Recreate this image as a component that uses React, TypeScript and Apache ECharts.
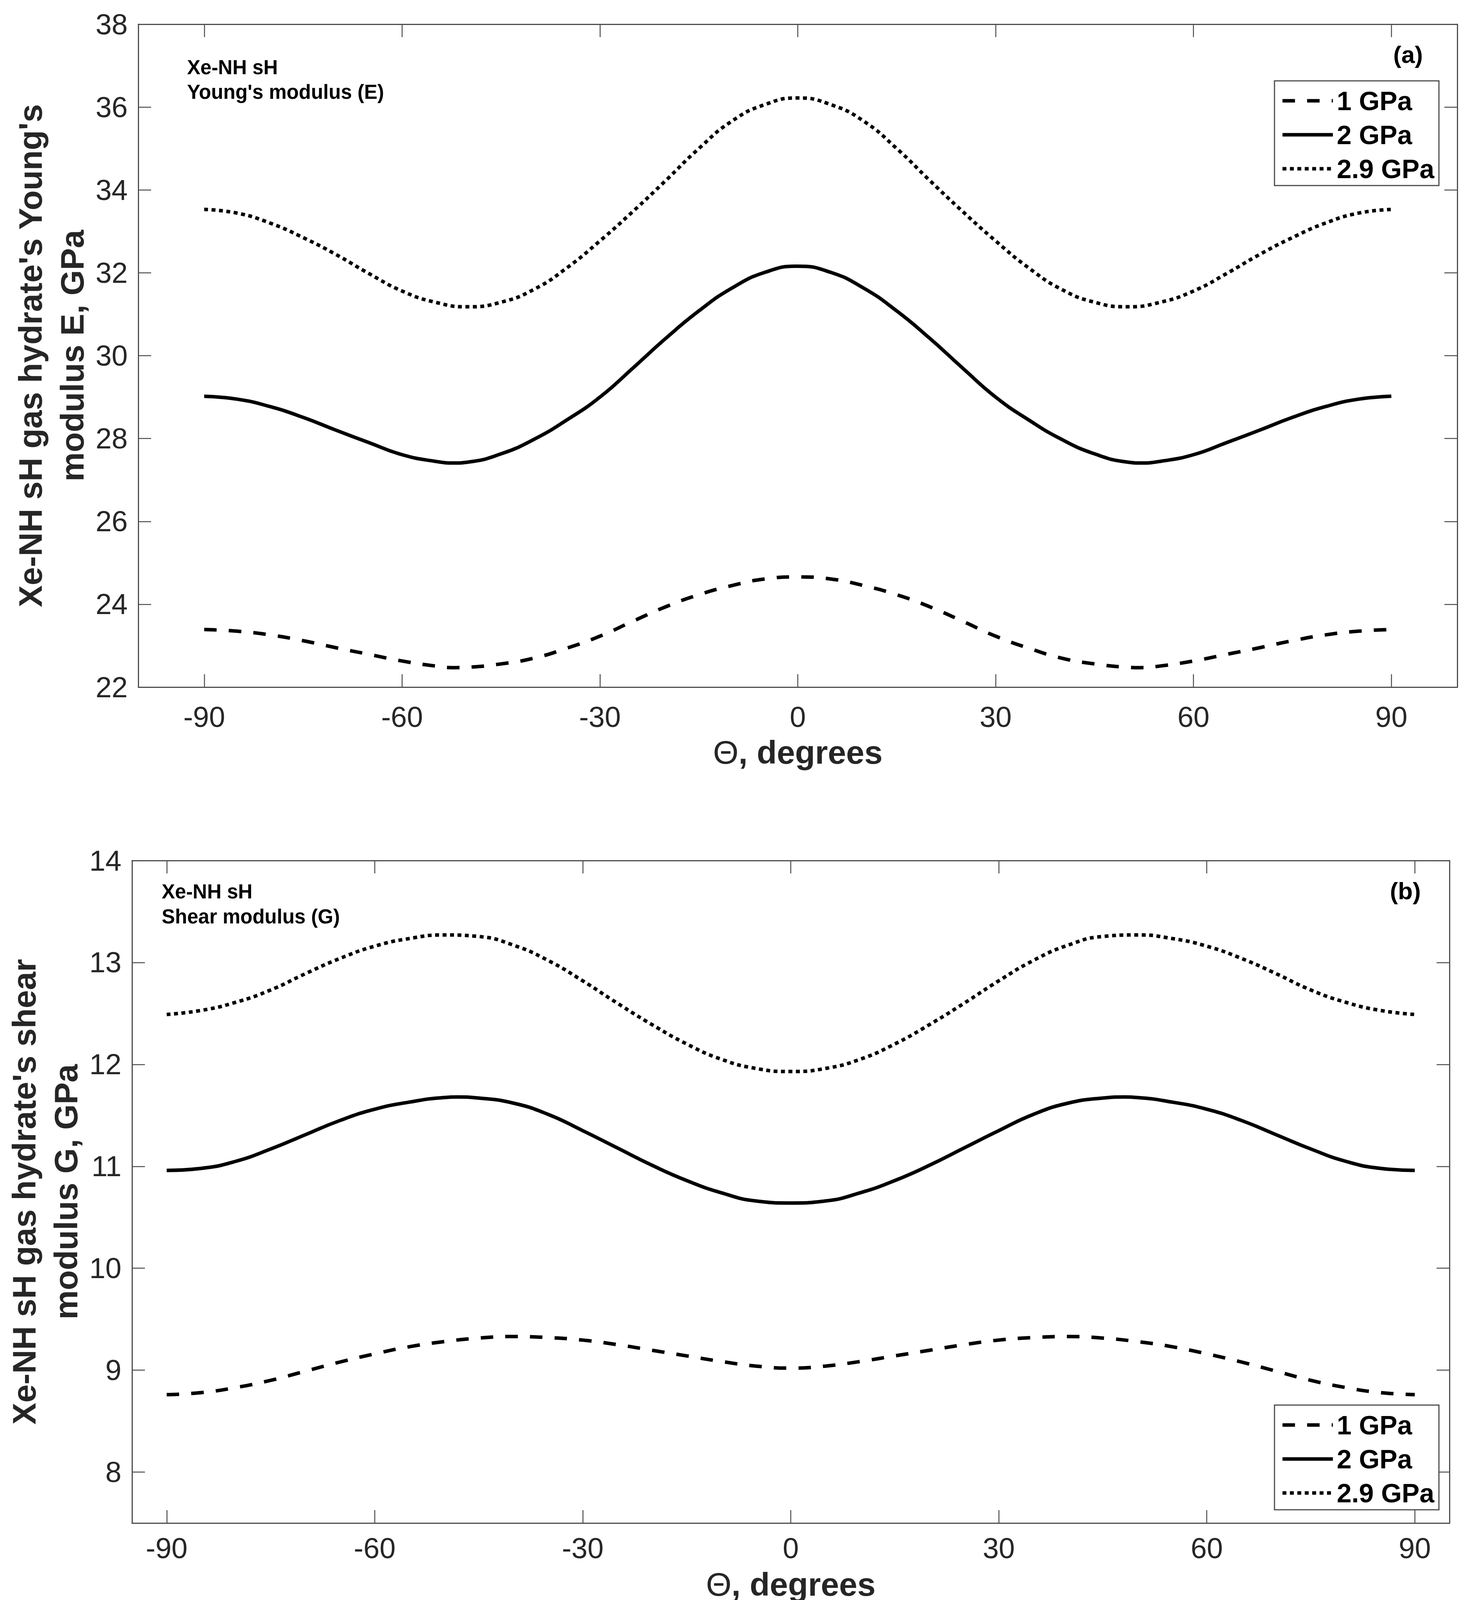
import React, { useEffect, useRef } from "react";
import * as echarts from "echarts";

const W = 3761;
const H = 4112;
const FONT = "'Liberation Sans', Arial, Helvetica, sans-serif";

const seriesNames = ["1 GPa", "2 GPa", "2.9 GPa"];

// (a) Young's modulus E, GPa  — [Θ in degrees, E]
const youngs1GPa = [
  [-90, 23.39], [-85, 23.35], [-80, 23.26], [-75, 23.12], [-70, 22.95], [-65, 22.79], [-60, 22.63], [-55, 22.51],
  [-52, 22.47], [-50, 22.48], [-45, 22.56], [-40, 22.7], [-35, 22.94], [-30, 23.23], [-25, 23.59], [-20, 23.94],
  [-15, 24.23], [-10, 24.45], [-5, 24.61], [0, 24.66], [5, 24.61], [10, 24.45], [15, 24.23], [20, 23.94],
  [25, 23.59], [30, 23.23], [35, 22.94], [40, 22.7], [45, 22.56], [50, 22.48], [52, 22.47], [55, 22.51],
  [60, 22.63], [65, 22.79], [70, 22.95], [75, 23.12], [80, 23.26], [85, 23.35], [90, 23.39],
];
const youngs2GPa = [
  [-90, 29.02], [-85, 28.95], [-80, 28.77], [-75, 28.51], [-70, 28.2], [-65, 27.9], [-60, 27.61], [-55, 27.45],
  [-52, 27.41], [-50, 27.43], [-45, 27.63], [-40, 27.98], [-35, 28.45], [-30, 29.0], [-25, 29.7], [-20, 30.42],
  [-15, 31.08], [-10, 31.63], [-5, 32.01], [0, 32.16], [5, 32.01], [10, 31.63], [15, 31.08], [20, 30.42],
  [25, 29.7], [30, 29.0], [35, 28.45], [40, 27.98], [45, 27.63], [50, 27.43], [52, 27.41], [55, 27.45],
  [60, 27.61], [65, 27.9], [70, 28.2], [75, 28.51], [80, 28.77], [85, 28.95], [90, 29.02],
];
const youngs29GPa = [
  [-90, 33.53], [-85, 33.44], [-80, 33.2], [-75, 32.85], [-70, 32.44], [-65, 31.98], [-60, 31.56], [-55, 31.29],
  [-50, 31.18], [-45, 31.29], [-40, 31.6], [-35, 32.12], [-30, 32.77], [-25, 33.48], [-20, 34.23], [-15, 35.0],
  [-10, 35.66], [-5, 36.06], [0, 36.22], [5, 36.06], [10, 35.66], [15, 35.0], [20, 34.23], [25, 33.48],
  [30, 32.77], [35, 32.12], [40, 31.6], [45, 31.29], [50, 31.18], [55, 31.29], [60, 31.56], [65, 31.98],
  [70, 32.44], [75, 32.85], [80, 33.2], [85, 33.44], [90, 33.53],
];

// (b) Shear modulus G, GPa — [Θ in degrees, G]
const shear1GPa = [
  [-90, 8.76], [-85, 8.78], [-80, 8.83], [-75, 8.9], [-70, 8.99], [-65, 9.08], [-60, 9.16], [-55, 9.23],
  [-50, 9.28], [-45, 9.315], [-40, 9.33], [-35, 9.32], [-30, 9.295], [-25, 9.25], [-20, 9.195], [-15, 9.14],
  [-10, 9.085], [-5, 9.04], [0, 9.02], [5, 9.04], [10, 9.085], [15, 9.14], [20, 9.195], [25, 9.25],
  [30, 9.295], [35, 9.32], [40, 9.33], [45, 9.315], [50, 9.28], [55, 9.23], [60, 9.16], [65, 9.08],
  [70, 8.99], [75, 8.9], [80, 8.83], [85, 8.78], [90, 8.76],
];
const shear2GPa = [
  [-90, 10.96], [-85, 10.98], [-80, 11.05], [-75, 11.17], [-70, 11.31], [-65, 11.45], [-60, 11.56], [-55, 11.63],
  [-50, 11.675], [-48, 11.68], [-45, 11.67], [-40, 11.62], [-35, 11.51], [-30, 11.35], [-25, 11.18], [-20, 11.01],
  [-15, 10.86], [-10, 10.74], [-5, 10.66], [0, 10.64], [5, 10.66], [10, 10.74], [15, 10.86], [20, 11.01],
  [25, 11.18], [30, 11.35], [35, 11.51], [40, 11.62], [45, 11.67], [48, 11.68], [50, 11.675], [55, 11.63],
  [60, 11.56], [65, 11.45], [70, 11.31], [75, 11.17], [80, 11.05], [85, 10.98], [90, 10.96],
];
const shear29GPa = [
  [-90, 12.49], [-85, 12.53], [-80, 12.61], [-75, 12.73], [-70, 12.89], [-65, 13.04], [-60, 13.16], [-55, 13.235],
  [-50, 13.27], [-45, 13.255], [-40, 13.17], [-35, 13.02], [-30, 12.82], [-25, 12.6], [-20, 12.39], [-15, 12.2],
  [-10, 12.05], [-5, 11.96], [0, 11.93], [5, 11.96], [10, 12.05], [15, 12.2], [20, 12.39], [25, 12.6],
  [30, 12.82], [35, 13.02], [40, 13.17], [45, 13.255], [50, 13.27], [55, 13.235], [60, 13.16], [65, 13.04],
  [70, 12.89], [75, 12.73], [80, 12.61], [85, 12.53], [90, 12.49],
];

const xTickValues = [-90, -60, -30, 0, 30, 60, 90];
const youngsTickValues = [22, 24, 26, 28, 30, 32, 34, 36, 38];
const shearTickValues = [8, 9, 10, 11, 12, 13, 14];

const dashPattern = [32, 31];
const dotPattern = [10, 9];
const lineTypes: any[] = [dashPattern, "solid", dotPattern];

const FRAME = "#4d4d4d";
const LABEL = "#262626";

function buildXAxes(gridIndex: number, min: number, max: number, nameGap: number, labelMargin: number) {
  const base: any = {
    type: "value",
    gridIndex,
    min,
    max,
    splitLine: { show: false },
    axisLine: { show: true, onZero: false, lineStyle: { color: FRAME, width: 3 } },
    axisTick: {
      show: true,
      inside: true,
      length: 33,
      customValues: xTickValues,
      lineStyle: { color: FRAME, width: 2.5 },
    },
  };
  return [
    {
      ...base,
      position: "bottom",
      axisLabel: {
        show: true,
        customValues: xTickValues,
        margin: labelMargin,
        fontSize: 74,
        lineHeight: 60,
        color: LABEL,
        fontFamily: FONT,
      },
      name: "{th|Θ}, degrees",
      nameLocation: "middle",
      nameGap,
      nameMoveOverlap: false,
      nameTextStyle: {
        fontSize: 84,
        fontWeight: "bold",
        lineHeight: 70,
        color: LABEL,
        fontFamily: FONT,
        rich: {
          th: { fontSize: 84, lineHeight: 70, fontWeight: "normal", color: LABEL, fontFamily: FONT },
        },
      },
    },
    { ...base, position: "top", axisLabel: { show: false } },
  ];
}

function buildYAxes(gridIndex: number, min: number, max: number, ticks: number[], title: string) {
  const base: any = {
    type: "value",
    gridIndex,
    min,
    max,
    splitLine: { show: false },
    axisLine: { show: true, onZero: false, lineStyle: { color: FRAME, width: 3 } },
    axisTick: {
      show: true,
      inside: true,
      length: 33,
      customValues: ticks,
      lineStyle: { color: FRAME, width: 2.5 },
    },
  };
  return [
    {
      ...base,
      position: "left",
      axisLabel: {
        show: true,
        customValues: ticks,
        margin: 27,
        fontSize: 74,
        color: LABEL,
        fontFamily: FONT,
      },
      name: title,
      nameLocation: "middle",
      nameRotate: 90,
      nameGap: 116,
      nameMoveOverlap: false,
      nameTextStyle: {
        fontSize: 84,
        fontWeight: "bold",
        lineHeight: 107,
        color: LABEL,
        fontFamily: FONT,
        align: "center",
      },
    },
    { ...base, position: "right", axisLabel: { show: false } },
  ];
}

function buildLegend(left: number, top: number) {
  return {
    left,
    top,
    orient: "vertical",
    selectedMode: false,
    itemWidth: 129,
    itemHeight: 68,
    itemGap: 19,
    padding: [17, 12, 9, 16],
    borderColor: FRAME,
    borderWidth: 3,
    backgroundColor: "#ffffff",
    itemStyle: { opacity: 0 },
    textStyle: {
      fontSize: 68,
      fontWeight: "bold",
      color: "#000000",
      fontFamily: FONT,
      padding: [0, 0, 0, 5],
    },
    data: seriesNames.map((name, i) => ({
      name,
      lineStyle: { type: lineTypes[i], width: 9, color: "#000000", opacity: 1 },
    })),
  };
}

function buildSeries(axisIndex: number, values: number[][][]) {
  return values.map((pts, i) => ({
    type: "line",
    name: seriesNames[i],
    xAxisIndex: axisIndex,
    yAxisIndex: axisIndex,
    data: pts,
    smooth: 0.5,
    symbol: "none",
    showSymbol: false,
    lineStyle: { color: "#000000", width: 9, type: lineTypes[i], cap: "butt" },
    itemStyle: { color: "#000000" },
    z: 3,
  }));
}

function annotation(x: number, y: number, text: string, size: number, align: string = "left") {
  return {
    type: "text",
    x,
    y,
    z: 10,
    style: {
      text,
      fontSize: size,
      fontWeight: "bold",
      fontFamily: FONT,
      fill: "#000000",
      textAlign: align,
      textVerticalAlign: "middle",
    },
  };
}

export default function App() {
  const ref = useRef<HTMLDivElement>(null);

  useEffect(() => {
    const el = ref.current;
    if (!el) return;
    const chart = echarts.init(el, undefined, { renderer: "svg", width: W, height: H });
    const option: any = {
      animation: false,
      backgroundColor: "#ffffff",
      grid: [
        { left: 354, top: 62, width: 3377, height: 1697, containLabel: false },
        { left: 337, top: 2203, width: 3374, height: 1696, containLabel: false },
      ],
      xAxis: [...buildXAxes(0, -100, 100, 132, 46), ...buildXAxes(1, -95, 95, 122, 34)],
      yAxis: [
        ...buildYAxes(0, 22, 38, youngsTickValues, "Xe-NH sH gas hydrate's Young's\nmodulus E, GPa"),
        ...buildYAxes(1, 7.5, 14, shearTickValues, "Xe-NH sH gas hydrate's shear\nmodulus G, GPa"),
      ],
      legend: [buildLegend(3263, 207), buildLegend(3263, 3597)],
      series: [
        ...buildSeries(0, [youngs1GPa, youngs2GPa, youngs29GPa]),
        ...buildSeries(2, [shear1GPa, shear2GPa, shear29GPa]),
      ],
      graphic: [
        annotation(479, 172, "Xe-NH sH", 51),
        annotation(479, 235, "Young's modulus (E)", 51),
        annotation(3605, 139, "(a)", 62, "center"),
        annotation(414, 2282, "Xe-NH sH", 51),
        annotation(414, 2346, "Shear modulus (G)", 51),
        annotation(3598, 2280, "(b)", 62, "center"),
      ],
    };
    chart.setOption(option);
    return () => {
      chart.dispose();
    };
  }, []);

  return (
    <div
      ref={ref}
      style={{ position: "absolute", left: 0, top: 0, width: W, height: H, background: "#ffffff" }}
    />
  );
}
